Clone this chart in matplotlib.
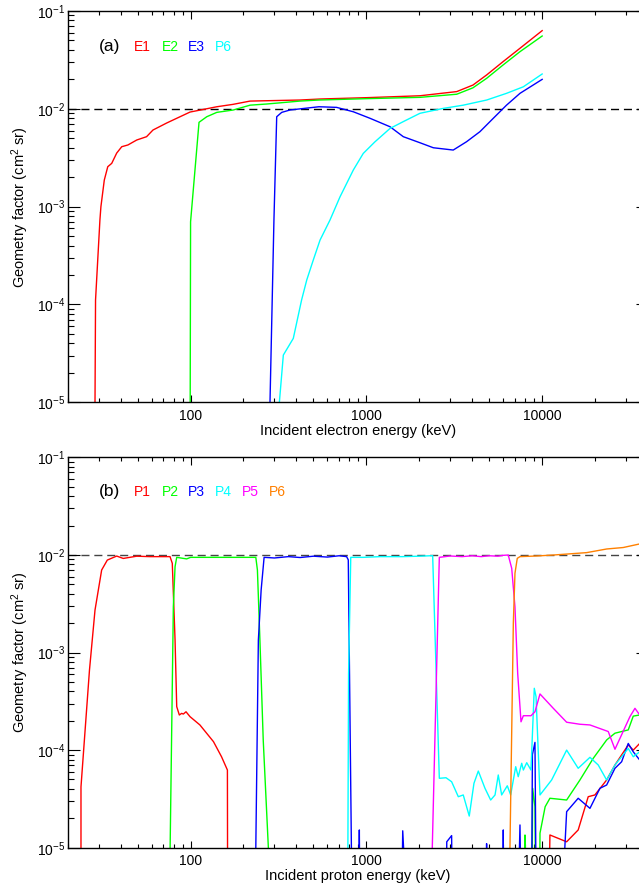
import numpy as np
import matplotlib
matplotlib.use('Agg')
import matplotlib.pyplot as plt
from matplotlib.ticker import FixedLocator, FixedFormatter, LogLocator, NullFormatter

plt.rcParams['font.family'] = ['Liberation Sans', 'DejaVu Sans']
plt.rcParams['mathtext.fontset'] = 'custom'
plt.rcParams['mathtext.rm'] = 'Liberation Sans'
plt.rcParams['mathtext.it'] = 'Liberation Sans:italic'
plt.rcParams['mathtext.bf'] = 'Liberation Sans:bold'

ZERO = 1e-7  # response below the plotted range

# ---------------- panel (a): electron response ----------------
E1_E = [28.6, 28.8, 30.5, 30.9, 32.3, 33.8, 35.6, 38.0, 40.6, 44, 49.4, 56.2, 61.1, 73.1, 87.1,
        99.3, 113, 141, 174, 218, 271, 419, 545, 1000, 2018, 3266, 4040, 4833, 5984, 7480, 10000]
E1_G = [1e-5, 1.11e-4, 7.3e-4, 1.0e-3, 1.87e-3, 2.56e-3, 2.77e-3, 3.53e-3, 4.1e-3, 4.27e-3, 4.8e-3,
        5.19e-3, 6.07e-3, 7.16e-3, 8.3e-3, 9.27e-3, 9.7e-3, 1.05e-2, 1.11e-2, 1.2e-2, 1.21e-2, 1.23e-2,
        1.26e-2, 1.3e-2, 1.36e-2, 1.5e-2, 1.75e-2, 2.22e-2, 3.03e-2, 4.16e-2, 6.3e-2]

E2_E = [99.5, 100, 111.7, 123.6, 141, 175, 218, 271, 419, 537, 1000, 2018, 3266, 4040, 4833, 5984, 7480, 10000]
E2_G = [1e-5, 7e-4, 7.28e-3, 8.3e-3, 9.2e-3, 9.73e-3, 1.09e-2, 1.12e-2, 1.2e-2, 1.23e-2, 1.27e-2,
        1.31e-2, 1.41e-2, 1.64e-2, 2.05e-2, 2.8e-2, 3.84e-2, 5.55e-2]

E3_E = [283, 298, 309, 330, 368, 537, 677, 843, 1049, 1363, 1622, 2018, 2404, 3120, 3715, 4426,
        5272, 6270, 7480, 10000]
E3_G = [1e-5, 7.3e-4, 8.3e-3, 9.2e-3, 9.73e-3, 1.05e-2, 1.035e-2, 9.33e-3, 8.0e-3, 6.56e-3, 5.19e-3,
        4.5e-3, 4.0e-3, 3.79e-3, 4.61e-3, 5.84e-3, 8.0e-3, 1.09e-2, 1.44e-2, 2.0e-2]

P6A_E = [320, 337, 384, 428, 458, 499, 545, 621, 708, 843, 960, 1119, 1363, 1622, 2018, 2737, 3557,
         4833, 6270, 7816, 10000]
P6A_G = [1e-5, 3.04e-5, 4.5e-5, 1.11e-4, 1.78e-4, 2.85e-4, 4.55e-4, 7.3e-4, 1.26e-3, 2.37e-3, 3.5e-3,
         4.6e-3, 6.3e-3, 7.4e-3, 9.0e-3, 1.01e-2, 1.09e-2, 1.23e-2, 1.44e-2, 1.68e-2, 2.27e-2]

# ---------------- panel (b): proton response ----------------
P1_E = [23.8, 23.8, 26.6, 28.6, 31.2, 33.6, 38.0, 41.4, 49.4, 58.7, 76.4, 78.7, 81.6, 83.4, 86.3, 89.0,
        90.9, 94.2, 99.3, 113, 135, 150, 162, 163, 10610, 11070, 13780, 16030, 18280, 19950, 23270,
        25950, 30880, 32980, 35880, 40000]
P1_G = [1e-5, 4.2e-5, 6.6e-4, 2.72e-3, 7.0e-3, 8.85e-3, 9.73e-3, 9.2e-3, 9.7e-3, 9.6e-3, 9.6e-3, 8.2e-3,
        1.34e-3, 2.79e-4, 2.29e-4, 2.38e-4, 2.34e-4, 2.47e-4, 2.2e-4, 1.81e-4, 1.22e-4, 8.55e-5, 6.25e-5,
        ZERO, ZERO, 1.35e-5, 1.15e-5, 1.52e-5, 3.33e-5, 3.47e-5, 4.94e-5, 7.04e-5, 1.13e-4, 1.0e-4,
        1.17e-4, 1.35e-4]

P2_E = [76.5, 79.8, 81.6, 83.4, 95, 100, 150, 235, 240, 248, 259, 277, 280, 7850, 7986, 8120, 8636,
        8830, 9100, 9290, 9550, 9720, 10400, 11070, 13780, 16400, 19530, 23270, 25950, 30880, 32980,
        35880, 40000]
P2_G = [1e-5, 2.94e-3, 7.57e-3, 9.44e-3, 9.1e-3, 9.44e-3, 9.44e-3, 9.44e-3, 7.0e-3, 1.34e-3, 1.27e-4,
        1e-5, ZERO, ZERO, 1.35e-5, ZERO, ZERO, 4.06e-5, 2.63e-5, ZERO, ZERO, 1.41e-5, 2.63e-5, 3.21e-5,
        3.08e-5, 4.94e-5, 8.24e-5, 1.27e-4, 1.49e-4, 1.61e-4, 2.23e-4, 2.29e-4, 2.4e-4]

P3_E = [235, 243, 252, 262, 300, 360, 420, 500, 600, 700, 772, 789, 822, 890, 912, 930, 1553, 1610,
        1850, 2840, 2866, 3055, 3122, 4780, 4830, 4880, 5990, 6010, 6030, 7003, 7478, 7816, 8620, 8800,
        9100, 9380, 11830, 13780, 16030, 18700, 21310, 23270, 25950, 28320, 30880, 32980, 35880, 40000]
P3_G = [1e-5, 1.34e-3, 4.37e-3, 9.44e-3, 9.3e-3, 9.6e-3, 9.4e-3, 9.7e-3, 9.5e-3, 9.8e-3, 9.6e-3, 8.9e-3,
        1e-5, ZERO, 1.52e-5, ZERO, ZERO, 1.49e-5, ZERO, ZERO, 1.15e-5, 1.33e-5, ZERO, ZERO, 1.1e-5, ZERO,
        ZERO, 1.52e-5, ZERO, ZERO, 1.71e-5, ZERO, ZERO, 9e-5, 1.2e-4, ZERO, ZERO, 2.34e-5, 3.21e-5,
        2.53e-5, 4.06e-5, 4.39e-5, 6.51e-5, 7.6e-5, 1.17e-4, 9.6e-5, 7.92e-5, 8.5e-5]

P4_E = [785, 792, 815, 961, 1200, 1600, 2000, 2383, 2600, 2838, 3055, 3334, 3557, 3848, 4093, 4333,
        4729, 5094, 5394, 5627, 5883, 6334, 6621, 7070, 7310, 7650, 7816, 8170, 8636, 9020, 9230, 9720,
        11320, 13780, 16030, 18700, 20840, 23270, 25950, 30880, 32980, 35880, 40000]
P4_G = [1e-5, 6e-4, 9.44e-3, 9.44e-3, 9.6e-3, 9.6e-3, 9.7e-3, 9.82e-3, 5.14e-5, 5.21e-5, 4.74e-5,
        3.33e-5, 3.47e-5, 2.11e-5, 4.57e-5, 6.1e-5, 4.06e-5, 3.08e-5, 3.47e-5, 5.56e-5, 3.47e-5, 4.31e-5,
        3.47e-5, 6.76e-5, 5.34e-5, 7.33e-5, 6.25e-5, 7.43e-5, 6.25e-5, 4.3e-4, 3.53e-4, 3.47e-5, 4.94e-5,
        1.0e-4, 6.51e-5, 8.43e-5, 7.04e-5, 4.94e-5, 7.04e-5, 1.04e-4, 8.55e-5, 9.6e-5, 1.0e-4]

P5_E = [2371, 2600, 3000, 3500, 4000, 4500, 5000, 5600, 6000, 6412, 6710, 7003, 7257, 7580, 7816, 8636,
        9100, 9720, 11570, 13780, 16400, 18700, 23760, 25950, 31560, 33720, 35880, 40000]
P5_G = [1e-5, 9.44e-3, 9.75e-3, 9.6e-3, 9.8e-3, 9.6e-3, 9.8e-3, 9.7e-3, 9.9e-3, 9.97e-3, 7.3e-3, 2.94e-3,
        6.12e-4, 1.95e-4, 2.25e-4, 2.25e-4, 2.47e-4, 3.76e-4, 2.68e-4, 1.93e-4, 1.84e-4, 1.81e-4, 1.55e-4,
        1.02e-4, 2.2e-4, 2.68e-4, 2.29e-4, 2.0e-4]

P6B_E = [6559, 6855, 7003, 7218, 7478, 9300, 11570, 17900, 23300, 28900, 35500, 40000]
P6B_G = [1e-5, 1.99e-3, 6.48e-3, 9.22e-3, 9.6e-3, 9.75e-3, 9.97e-3, 1.055e-2, 1.15e-2, 1.19e-2, 1.29e-2, 1.33e-2]

# ---------------- axes / labels ----------------
XTICKS = [100, 1000, 10000]
XTICKLABELS = ['100', '1000', '10000']
YTICKS = [1e-5, 1e-4, 1e-3, 1e-2, 1e-1]
YTICKLABELS = ['10$^{-5}$', '10$^{-4}$', '10$^{-3}$', '10$^{-2}$', '10$^{-1}$']
REF_LEVEL = 1e-2

COL = {'red': '#ff0000', 'green': '#00ff00', 'blue': '#0000ff', 'cyan': '#00ffff',
       'magenta': '#ff00ff', 'orange': '#ff8000'}

W, H = 639, 890
fig = plt.figure(figsize=(W / 100, H / 100), dpi=100)
L, R = 67.7, 648.0
ax1 = fig.add_axes([L / W, 1 - 402.3 / H, (R - L) / W, (402.3 - 11.0) / H])
ax2 = fig.add_axes([L / W, 1 - 847.7 / H, (R - L) / W, (847.7 - 457.3) / H])


def style(ax, xlabel):
    ax.set_xscale('log')
    ax.set_yscale('log')
    ax.set_xlim(20, 40000)
    ax.set_ylim(1e-5, 1e-1)
    ax.xaxis.set_major_locator(FixedLocator(XTICKS))
    ax.xaxis.set_major_formatter(FixedFormatter(XTICKLABELS))
    ax.xaxis.set_minor_locator(LogLocator(base=10, subs=np.arange(2, 10)))
    ax.xaxis.set_minor_formatter(NullFormatter())
    ax.yaxis.set_major_locator(FixedLocator(YTICKS))
    ax.yaxis.set_major_formatter(FixedFormatter(YTICKLABELS))
    ax.yaxis.set_minor_locator(LogLocator(base=10, subs=np.arange(2, 10)))
    ax.yaxis.set_minor_formatter(NullFormatter())
    ax.tick_params(which='both', direction='in', top=True, right=True, colors='black')
    ax.tick_params(axis='x', which='major', length=5.4, width=0.8, pad=4.8, labelsize=10)
    ax.tick_params(axis='x', which='minor', length=2.9, width=0.8)
    ax.tick_params(axis='y', which='major', length=8.6, width=0.8, pad=2, labelsize=10)
    ax.tick_params(axis='y', which='minor', length=4.3, width=0.8)
    for s in ax.spines.values():
        s.set_linewidth(1.0)
    ax.set_xlabel(xlabel, fontsize=10.5)
    ax.set_ylabel('Geometry factor (cm$^2$ sr)', fontsize=10.5)
    ax.xaxis.set_label_coords(0.5, -0.055)
    ax.yaxis.set_label_coords(-0.063, 0.5)


style(ax1, 'Incident electron energy (keV)')
style(ax2, 'Incident proton energy (keV)')

lw = 1.0
ax1.axhline(REF_LEVEL, color='black', lw=1.0, ls=(0, (5.8, 3.5)), zorder=1)
ax1.plot(E1_E, E1_G, color=COL['red'], lw=lw)
ax1.plot(E2_E, E2_G, color=COL['green'], lw=lw)
ax1.plot(E3_E, E3_G, color=COL['blue'], lw=lw)
ax1.plot(P6A_E, P6A_G, color=COL['cyan'], lw=lw)

ax2.axhline(REF_LEVEL, color='#444444', lw=1.0, ls=(0, (5.8, 3.5)), zorder=1)
ax2.plot(P1_E, P1_G, color=COL['red'], lw=lw)
ax2.plot(P2_E, P2_G, color=COL['green'], lw=lw)
ax2.plot(P3_E, P3_G, color=COL['blue'], lw=lw)
ax2.plot(P4_E, P4_G, color=COL['cyan'], lw=lw)
ax2.plot(P5_E, P5_G, color=COL['magenta'], lw=lw)
ax2.plot(P6B_E, P6B_G, color=COL['orange'], lw=lw)

# in-panel labels
LABEL_X = [134.3, 161.5, 188.3, 215.0, 242.3, 269.3]
fig.text(98.5 / W, 1 - 50.7 / H, '(a)', fontsize=12.5, color='black', va='baseline')
for x, t, c in zip(LABEL_X, ['E1', 'E2', 'E3', 'P6'], ['red', 'green', 'blue', 'cyan']):
    fig.text(x / W, 1 - 50.7 / H, t, fontsize=10, color=COL[c], va='baseline')
fig.text(98.5 / W, 1 - 496.3 / H, '(b)', fontsize=12.5, color='black', va='baseline')
for x, t, c in zip(LABEL_X, ['P1', 'P2', 'P3', 'P4', 'P5', 'P6'],
                   ['red', 'green', 'blue', 'cyan', 'magenta', 'orange']):
    fig.text(x / W, 1 - 496.3 / H, t, fontsize=10, color=COL[c], va='baseline')

fig.savefig('out.png', dpi=100)
